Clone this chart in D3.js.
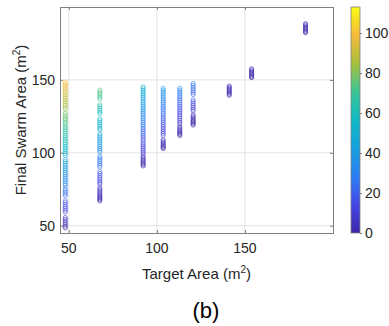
<!DOCTYPE html>
<html>
<head>
<meta charset="utf-8">
<script src="https://cdn.jsdelivr.net/npm/d3@7"></script>
<style>
  body { margin: 0; background: #fff; }
  svg { display: block; font-family: "Liberation Sans", Arial, sans-serif; }
</style>
</head>
<body>
<div id="chart"></div>
<script>
const width = 389
const height = 326

// Target area of each run (x), one column of points per target
const targetAreas = [48, 67.6, 92.2, 103.6, 113, 120.6, 141.1, 153.8, 184.4]

// Final swarm areas, one list per target
const finalAreas = [
  [148.5, 147.3, 146.2, 145, 143.8, 142.5, 141.3, 140, 138.7, 137.5, 136.2, 135, 133.8, 132.5, 131.2, 130,
   127.2, 126, 124.8, 123.5, 122.3, 121, 119.8,
   118.2, 117, 115.8, 114.5, 113.2, 112, 110.8, 109.5, 108.3, 107, 105.8, 104.5, 103.3, 102, 100.8, 99.5, 98.2,
   95.3, 94, 92.8, 91.5, 90.2, 89, 87.8,
   86.4, 85.2, 84, 82.7, 81.4, 80.2, 78.9, 77.6,
   75.6, 74.3, 73, 71.8, 70.5,
   67, 65.8, 64.5, 63.2, 62, 60.7, 59.4,
   55.6, 54.4, 53.2, 52, 50.8, 49.6, 48.5],
  [143, 141.8, 140.6, 139.4, 138.2, 137,
   133, 131.8, 130.5, 129.3, 128, 126.8,
   123.2, 122, 120.8, 119.5, 118.3, 117, 115.9,
   113, 111.8, 110.5, 109.3, 108.1,
   106.8, 105.5, 104.3, 103, 101.8, 100.5,
   97.6, 96.4, 95.2, 94, 92.7, 91.5, 90.2,
   87, 85.8, 84.5, 83.2, 82, 80.7, 79.5, 78.4,
   76, 75, 74, 73, 72, 71, 70.2, 69.4, 68.6, 67.8, 67],
  [145.2, 144, 142.8, 141.6, 140.4, 139.2, 138, 136.8, 135.5, 134.3, 133, 131.8, 130.6,
   129.4, 128.2, 127, 125.8, 124.5, 123.3, 122, 120.8, 119.5,
   118.3, 117, 115.8, 114.6, 113.3, 112, 110.8, 109.5, 108.2,
   106.6, 105.4, 104.2, 103, 101.8, 100.5, 99.2,
   97.5, 96.5, 95.5, 94.5, 93.6, 92.7, 91.8, 91],
  [144.2, 143, 141.8, 140.6, 139.4, 138.2, 137, 135.8, 134.5, 133.3, 132, 130.8, 129.6, 128.4,
   127, 125.8, 124.5, 123.3, 122, 120.8, 119.5, 118.3,
   117, 115.8, 114.5, 113.3, 112,
   109, 108, 107, 106, 105.2, 104.4, 103.6, 102.9],
  [144.2, 143, 141.8, 140.6, 139.4, 138.2, 137, 135.8, 134.5, 133.3, 132, 130.8, 129.6, 128.4,
   127.2, 126, 124.8, 123.5, 122.3, 121, 119.8,
   118, 117, 116, 115, 114.2, 113.4, 112.6, 111.8],
  [147.5, 146.3, 145, 143.8, 142.5, 141.2, 140,
   136.3, 135, 133.8, 132.5, 131.2, 130, 128.7,
   126, 125, 124, 123, 122.2, 121.4, 120.6, 119.8, 119],
  [145.8, 145, 144.2, 143.4, 142.6, 141.8, 141, 140.2, 139.5],
  [157.6, 156.8, 156, 155.2, 154.4, 153.6, 152.8, 152, 151.6],
  [188.6, 187.8, 187, 186.2, 185.4, 184.6, 183.8, 183, 182.4]
]

const xTicks = [50, 100, 150]
const yTicks = [50, 100, 150]
const cTicks = [0, 20, 40, 60, 80, 100]

// parula-ish colour stops
const parulaStops = ["#3e26a8", "#4647e6", "#2b7ff3", "#169fdf", "#0fb9c4", "#3ac494", "#a7c03d", "#f5ba3a", "#f9fb14"]

// flatten into points; colour = how far the swarm overshot the target
const points = []
targetAreas.forEach((t, i) => {
  for (const f of finalAreas[i]) points.push({ target: t, final: f, err: f - t })
})

const plot = { left: 60, right: 333, top: 7, bottom: 233 }
const bar = { left: 351, right: 360, top: 7, bottom: 233 }
const textColor = "#262626"

const x = d3.scaleLinear().domain([45, 200]).range([plot.left, plot.right])
const y = d3.scaleLinear().domain([45, 200]).range([plot.bottom, plot.top])
const cMax = 113
const color = d3.scaleLinear()
  .domain(parulaStops.map((_, i) => i / (parulaStops.length - 1) * cMax))
  .range(parulaStops)
  .interpolate(d3.interpolateRgb)
  .clamp(true)
const cy = d3.scaleLinear().domain([0, cMax]).range([bar.bottom, bar.top])

const svg = d3.select("#chart").append("svg")
  .attr("width", width)
  .attr("height", height)

// grid
svg.append("g")
  .selectAll("line")
  .data(xTicks)
  .join("line")
    .attr("x1", d => x(d)).attr("x2", d => x(d))
    .attr("y1", plot.top).attr("y2", plot.bottom)
    .attr("stroke", "#e3e3e3").attr("stroke-width", 1)
svg.append("g")
  .selectAll("line")
  .data(yTicks)
  .join("line")
    .attr("y1", d => y(d)).attr("y2", d => y(d))
    .attr("x1", plot.left).attr("x2", plot.right)
    .attr("stroke", "#e3e3e3").attr("stroke-width", 1)

// points
svg.append("g")
  .selectAll("circle")
  .data(points)
  .join("circle")
    .attr("cx", d => x(d.target))
    .attr("cy", d => y(d.final))
    .attr("r", 2.1)
    .attr("fill", "none")
    .attr("stroke", d => color(d.err))
    .attr("stroke-width", 0.8)
    .attr("stroke-opacity", 0.75)

// axes box, ticks pointing inward on all four sides
const axisColor = "#808080"
const tickLen = 3
svg.append("g").call(d3.axisBottom(x).tickValues(xTicks).tickSize(-tickLen).tickFormat(""))
  .attr("transform", `translate(0,${plot.bottom})`)
svg.append("g").call(d3.axisTop(x).tickValues(xTicks).tickSize(-tickLen).tickFormat(""))
  .attr("transform", `translate(0,${plot.top})`)
svg.append("g").call(d3.axisLeft(y).tickValues(yTicks).tickSize(-tickLen).tickFormat(""))
  .attr("transform", `translate(${plot.left},0)`)
svg.append("g").call(d3.axisRight(y).tickValues(yTicks).tickSize(-tickLen).tickFormat(""))
  .attr("transform", `translate(${plot.right},0)`)
svg.selectAll(".domain, .tick line").attr("stroke", axisColor)

// tick labels
svg.append("g")
  .selectAll("text")
  .data(xTicks)
  .join("text")
    .attr("x", d => x(d))
    .attr("y", plot.bottom + 20)
    .attr("text-anchor", "middle")
    .attr("font-size", 14)
    .attr("fill", textColor)
    .text(d => d)
svg.append("g")
  .selectAll("text")
  .data(yTicks)
  .join("text")
    .attr("x", plot.left - 5)
    .attr("y", d => y(d))
    .attr("dy", "0.35em")
    .attr("text-anchor", "end")
    .attr("font-size", 14)
    .attr("fill", textColor)
    .text(d => d)

// axis titles
const xt = svg.append("text")
  .attr("x", (plot.left + plot.right) / 2)
  .attr("y", 279)
  .attr("text-anchor", "middle")
  .attr("font-size", 15)
  .attr("fill", textColor)
xt.append("tspan").text("Target Area (m")
xt.append("tspan").attr("font-size", 10).attr("dy", -6).text("2")
xt.append("tspan").attr("dy", 6).text(")")

const yt = svg.append("text")
  .attr("transform", `translate(26,${(plot.top + plot.bottom) / 2}) rotate(-90)`)
  .attr("text-anchor", "middle")
  .attr("font-size", 15)
  .attr("fill", textColor)
yt.append("tspan").text("Final Swarm Area (m")
yt.append("tspan").attr("font-size", 10).attr("dy", -6).text("2")
yt.append("tspan").attr("dy", 6).text(")")

// colorbar
const defs = svg.append("defs")
const grad = defs.append("linearGradient")
  .attr("id", "parula")
  .attr("x1", 0).attr("y1", 1).attr("x2", 0).attr("y2", 0)
grad.selectAll("stop")
  .data(parulaStops)
  .join("stop")
    .attr("offset", (_, i) => i / (parulaStops.length - 1))
    .attr("stop-color", d => d)
svg.append("rect")
  .attr("x", bar.left).attr("y", bar.top)
  .attr("width", bar.right - bar.left).attr("height", bar.bottom - bar.top)
  .attr("fill", "url(#parula)")
  .attr("stroke", axisColor).attr("stroke-width", 0.8)
svg.append("g")
  .attr("transform", `translate(${bar.right},0)`)
  .call(d3.axisRight(cy).tickValues(cTicks).tickSize(2).tickPadding(3))
  .call(g => g.select(".domain").remove())
  .call(g => g.selectAll(".tick line").attr("stroke", axisColor))
  .call(g => g.selectAll("text").attr("font-size", 14).attr("fill", textColor)
    .attr("font-family", "Liberation Sans, Arial, sans-serif"))

// panel label
svg.append("text")
  .attr("x", 206)
  .attr("y", 318)
  .attr("text-anchor", "middle")
  .attr("font-size", 22)
  .attr("fill", "#000")
  .text("(b)")
</script>
</body>
</html>
